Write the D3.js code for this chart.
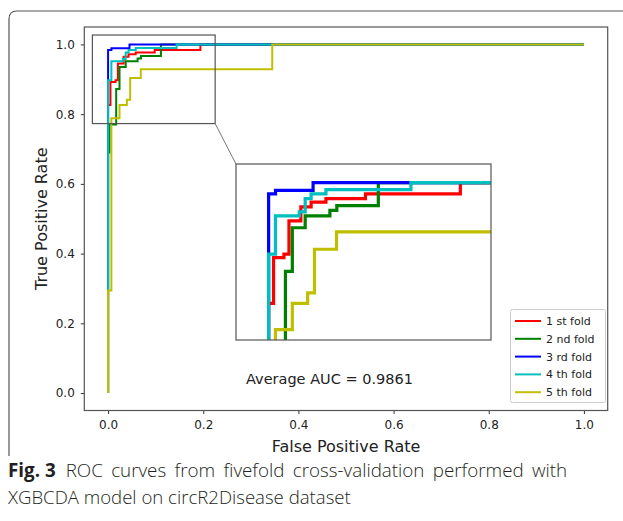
<!DOCTYPE html>
<html><head><meta charset="utf-8">
<script src="https://cdn.jsdelivr.net/npm/d3@7"></script>
<style>
body{margin:0;background:#fff;}
svg{display:block;}
</style></head>
<body>
<svg id="chart" width="623" height="521"></svg>
<script>
// ---- data ----
const foldNames = ["1 st fold","2 nd fold","3 rd fold","4 th fold","5 th fold"];
const foldColors = ["#ff0000","#008000","#0000ff","#00bfbf","#bfbf00"];
const fold1 = [[0,0],[0,0.826],[0.005,0.826],[0.005,0.892],[0.0155,0.892],[0.0155,0.897],[0.0206,0.897],[0.0206,0.945],[0.0326,0.945],[0.0326,0.965],[0.043,0.965],[0.043,0.972],[0.058,0.972],[0.058,0.977],[0.098,0.977],[0.098,0.984],[0.194,0.984],[0.194,1.0],[1,1]];
const fold2 = [[0,0],[0,0.69],[0.003,0.69],[0.003,0.77],[0.017,0.77],[0.017,0.872],[0.024,0.872],[0.024,0.935],[0.037,0.935],[0.037,0.952],[0.062,0.952],[0.062,0.960],[0.069,0.960],[0.069,0.967],[0.111,0.967],[0.111,1.0],[1,1]];
const fold3 = [[0,0],[0,0.984],[0.007,0.984],[0.007,0.989],[0.045,0.989],[0.045,1.0],[1,1]];
const fold4 = [[0,0],[0,0.897],[0.0069,0.897],[0.0069,0.952],[0.031,0.952],[0.031,0.958],[0.037,0.958],[0.037,0.977],[0.043,0.977],[0.043,0.984],[0.058,0.984],[0.058,0.990],[0.144,0.990],[0.144,1.0],[1,1]];
const fold5 = [[0,0],[0,0.294],[0.0069,0.294],[0.0069,0.788],[0.024,0.788],[0.024,0.826],[0.0395,0.826],[0.0395,0.841],[0.0464,0.841],[0.0464,0.904],[0.0687,0.904],[0.0687,0.929],[0.345,0.929],[0.345,1.0],[1,1]];
const folds = [fold1, fold2, fold3, fold4, fold5];
const xTicks = [0,0.2,0.4,0.6,0.8,1.0];
const yTicks = [0,0.2,0.4,0.6,0.8,1.0];
const avgAUC = "Average AUC = 0.9861";
const insetX = [-0.033, 0.225];
const insetY = [0.773, 1.027];

const svg = d3.select("#chart");
const font = "DejaVu Sans, sans-serif";

// outer frame
svg.append("path")
  .attr("d","M9,456 L9,19 Q9,11 17,11 L640,11")
  .attr("fill","none").attr("stroke","#555").attr("stroke-width",1.2);

// main axes
const L=84.3, R=607.7, T=27, B=410.5;
const x = d3.scaleLinear().domain([-0.05,1.05]).range([L,R]);
const y = d3.scaleLinear().domain([-0.05,1.05]).range([B,T]);
const line = d3.line().x(d=>x(d[0])).y(d=>y(d[1]));

const g = svg.append("g");
g.append("defs").append("clipPath").attr("id","mclip").append("rect")
  .attr("x",L).attr("y",T).attr("width",R-L).attr("height",B-T);
const mg = g.append("g").attr("clip-path","url(#mclip)");
folds.forEach((f,i)=>{
  mg.append("path").attr("d",line(f)).attr("fill","none")
    .attr("stroke",foldColors[i]).attr("stroke-width",2);
});

const xAxis = g.append("g").attr("transform",`translate(0,${B})`)
  .call(d3.axisBottom(x).tickValues(xTicks).tickFormat(d3.format(".1f")).tickSizeOuter(0).tickSize(3.5).tickPadding(6));
const yAxis = g.append("g").attr("transform",`translate(${L},0)`)
  .call(d3.axisLeft(y).tickValues(yTicks).tickFormat(d3.format(".1f")).tickSizeOuter(0).tickSize(3.5).tickPadding(6));
[xAxis,yAxis].forEach(a=>{
  a.select(".domain").remove();
  a.selectAll("line").attr("stroke","#333");
  a.selectAll("text").attr("font-family",font).attr("font-size",12).attr("fill","#222");
});
g.append("rect").attr("x",L).attr("y",T).attr("width",R-L).attr("height",B-T)
  .attr("fill","none").attr("stroke","#555").attr("stroke-width",1.2);

// axis titles
svg.append("text").attr("x",(L+R)/2).attr("y",452).attr("text-anchor","middle")
  .attr("font-family",font).attr("font-size",16).attr("fill","#222").text("False Positive Rate");
svg.append("text").attr("transform",`translate(47,${(T+B)/2}) rotate(-90)`).attr("text-anchor","middle")
  .attr("font-family",font).attr("font-size",16).attr("fill","#222").text("True Positive Rate");

// zoom indicator rectangle
svg.append("rect").attr("x",x(insetX[0])).attr("y",y(insetY[1]))
  .attr("width",x(insetX[1])-x(insetX[0])).attr("height",y(insetY[0])-y(insetY[1]))
  .attr("fill","none").attr("stroke","#555").attr("stroke-width",1.2);

// inset
const iL=236, iR=491, iT=164, iB=340;
const ix = d3.scaleLinear().domain(insetX).range([iL,iR]);
const iy = d3.scaleLinear().domain(insetY).range([iB,iT]);
svg.append("line").attr("x1",x(insetX[1])).attr("y1",y(insetY[0])).attr("x2",iL).attr("y2",iT)
  .attr("stroke","#777").attr("stroke-width",1);
svg.append("rect").attr("x",iL).attr("y",iT).attr("width",iR-iL).attr("height",iB-iT)
  .attr("fill","#fff");
svg.append("defs").append("clipPath").attr("id","iclip").append("rect")
  .attr("x",iL).attr("y",iT).attr("width",iR-iL).attr("height",iB-iT);
const ig = svg.append("g").attr("clip-path","url(#iclip)");
const iline = d3.line().x(d=>ix(d[0])).y(d=>iy(d[1]));
folds.forEach((f,i)=>{
  ig.append("path").attr("d",iline(f)).attr("fill","none")
    .attr("stroke",foldColors[i]).attr("stroke-width",3.2);
});
svg.append("rect").attr("x",iL).attr("y",iT).attr("width",iR-iL).attr("height",iB-iT)
  .attr("fill","none").attr("stroke","#555").attr("stroke-width",1.2);

// AUC text
svg.append("text").attr("x",246).attr("y",384).attr("text-anchor","start")
  .attr("font-family",font).attr("font-size",14.5).attr("fill","#222").text(avgAUC);

// legend
const lg = svg.append("g");
lg.append("rect").attr("x",510.5).attr("y",309.5).attr("width",95).attr("height",93).attr("rx",2)
  .attr("fill","#fff").attr("stroke","#ccc").attr("stroke-width",1);
foldNames.forEach((n,i)=>{
  const yy = 321 + i*17.8;
  lg.append("line").attr("x1",515).attr("x2",541).attr("y1",yy).attr("y2",yy)
    .attr("stroke",foldColors[i]).attr("stroke-width",2);
  lg.append("text").attr("x",546).attr("y",yy+4).attr("font-family",font).attr("font-size",11)
    .attr("fill","#222").text(n);
});

// caption
const capFont = "Open Sans, Noto Sans, sans-serif";
const cap = svg.append("text").attr("x",8).attr("y",477).attr("font-family",capFont)
  .attr("font-size",18.8).attr("fill","#231f20");
cap.append("tspan").attr("font-weight","bold").text("Fig. 3");
cap.append("tspan").attr("dx",10).attr("font-weight",300).attr("word-spacing",3.5).text("ROC curves from fivefold cross-validation performed with");
svg.append("text").attr("x",8).attr("y",504).attr("font-family",capFont).attr("font-weight",300)
  .attr("font-size",18.6).attr("fill","#231f20").text("XGBCDA model on circR2Disease dataset");
</script>
</body></html>
